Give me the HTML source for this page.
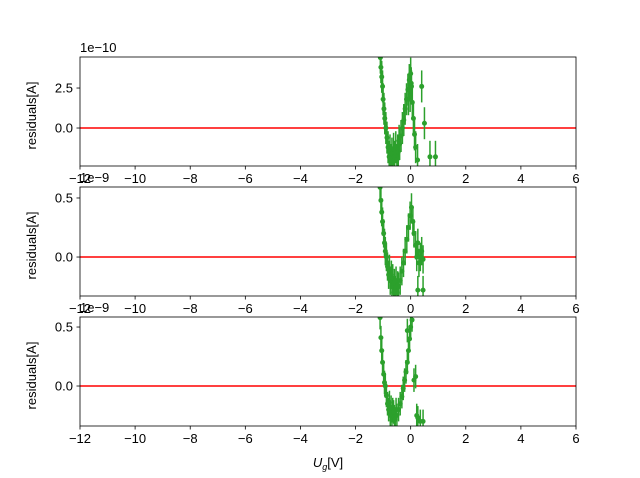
<!DOCTYPE html>
<html><head><meta charset="utf-8">
<style>
html,body{margin:0;padding:0;background:#fff;}
svg{display:block;font-family:"Liberation Sans","DejaVu Sans",sans-serif;}
</style></head>
<body>
<svg id="fig" width="640" height="478" viewBox="0 0 640 478" xmlns="http://www.w3.org/2000/svg"></svg>
<script>
// ---- data ----
const xTicks = [-12,-10,-8,-6,-4,-2,0,2,4,6];
const p1X = [-1.1,-1.08,-1.05,-1.02,-1.0,-0.97,-0.94,-0.9,-0.86,-0.82,-0.78,-0.75,-0.72,-0.68,-0.65,-0.62,-0.58,-0.54,-0.5,-0.47,-0.45,-0.42,-0.4,-0.35,-0.3,-0.25,-0.2,-0.15,-0.1,-0.05,0.0,0.03,0.06,0.1,0.14,0.18,0.25,0.4,0.5,0.7,0.9,-0.08,-0.02,0.02];
const p1Y = [4.4,3.8,3.2,2.6,1.8,1.2,0.6,0.0,-0.6,-1.2,-1.8,-1.4,-2.0,-1.6,-2.2,-1.3,-1.8,-1.2,-2.0,-1.4,-1.5,-0.8,-1.0,-0.5,0.0,0.5,1.2,1.8,2.4,3.0,3.4,2.6,1.6,0.6,-0.4,-1.2,-2.0,2.6,0.3,-1.8,-1.8,1.8,2.0,2.8];
const p1E = 1.0;
const p2X = [-1.11,-1.08,-1.05,-1.02,-0.98,-0.95,-0.92,-0.88,-0.84,-0.8,-0.77,-0.74,-0.7,-0.68,-0.65,-0.62,-0.59,-0.56,-0.53,-0.5,-0.47,-0.44,-0.38,-0.32,-0.26,-0.2,-0.14,-0.08,-0.02,0.03,0.08,0.12,0.18,0.22,0.26,0.3,0.35,0.4,0.45,0.26,0.45];
const p2Y = [0.59,0.48,0.38,0.3,0.2,0.12,0.05,0.0,-0.08,-0.15,-0.1,-0.2,-0.15,-0.25,-0.18,-0.3,-0.22,-0.28,-0.2,-0.3,-0.24,-0.25,-0.2,-0.12,-0.05,0.05,0.15,0.25,0.35,0.42,0.3,0.2,0.1,0.0,0.12,-0.05,0.0,0.05,-0.02,-0.28,-0.28];
const p2E = 0.12;
const p3X = [-1.11,-1.08,-1.05,-1.02,-0.98,-0.95,-0.92,-0.88,-0.84,-0.8,-0.77,-0.74,-0.71,-0.68,-0.65,-0.62,-0.59,-0.56,-0.53,-0.5,-0.44,-0.38,-0.32,-0.27,-0.22,-0.17,-0.12,-0.08,-0.04,0.0,0.05,-0.12,0.12,0.18,0.22,0.26,0.35,0.45];
const p3Y = [0.58,0.41,0.3,0.2,0.1,0.03,0.0,-0.08,-0.15,-0.2,-0.14,-0.25,-0.18,-0.29,-0.2,-0.22,-0.26,-0.28,-0.2,-0.25,-0.2,-0.15,-0.09,-0.02,0.05,0.12,0.2,0.3,0.4,0.5,0.56,0.47,0.05,0.08,-0.25,-0.27,-0.3,-0.3];
const p3E = 0.1;
const p1Ticks = [0.0,2.5];
const p2Ticks = [0.0,0.5];
const p3Ticks = [0.0,0.5];

const NS="http://www.w3.org/2000/svg";
const svg=document.getElementById('fig');
function mk(tag,attrs,parent){const e=document.createElementNS(NS,tag);for(const k in attrs)e.setAttribute(k,attrs[k]);(parent||svg).appendChild(e);return e;}
const L=80,R=576;
function xs(v){return L+(v-(-12))/(6-(-12))*(R-L);}

const panels=[
 {top:57,bot:166,ymin:-2.375,ymax:4.44,xs:p1X,ys:p1Y,e:p1E,ticks:p1Ticks,off:"1e\u221210",fmt:v=>v.toFixed(1)},
 {top:187,bot:296,ymin:-0.33,ymax:0.593,xs:p2X,ys:p2Y,e:p2E,ticks:p2Ticks,off:"1e\u22129",fmt:v=>v.toFixed(1)},
 {top:317,bot:426,ymin:-0.339,ymax:0.585,xs:p3X,ys:p3Y,e:p3E,ticks:p3Ticks,off:"1e\u22129",fmt:v=>v.toFixed(1)}
];
panels.forEach((p,i)=>{
 const g=mk('g',{});
 
 
 const ys=v=>p.bot-(v-p.ymin)/(p.ymax-p.ymin)*(p.bot-p.top);
 const clipId='c'+i;
 const cp=mk('clipPath',{id:clipId},g);
 mk('rect',{x:L,y:p.top,width:R-L,height:p.bot-p.top},cp);
 const data=mk('g',{'clip-path':'url(#'+clipId+')'},g);
 const zl=mk('line',{x1:L,x2:R,y1:ys(0),y2:ys(0),stroke:'#ff0000','stroke-width':1.5},data);
 
 
 for(let k=0;k<p.xs.length;k++){
  const x=xs(p.xs[k]),y=ys(p.ys[k]);
  const eb=mk('line',{x1:x,x2:x,y1:ys(p.ys[k]-p.e),y2:ys(p.ys[k]+p.e),stroke:'#2ca02c','stroke-width':1.5},data);
  
  
  const pt=mk('circle',{cx:x,cy:y,r:2.5,fill:'#2ca02c'},data);
  
  
 }
 mk('rect',{x:L,y:p.top,width:R-L,height:p.bot-p.top,fill:'none',stroke:'#000','stroke-width':0.8},g);
 xTicks.forEach(t=>{
  const x=xs(t);
  mk('line',{x1:x,x2:x,y1:p.bot,y2:p.bot+3.5,stroke:'#000','stroke-width':0.8},g);
  const tx=mk('text',{x:x,y:p.bot+17,'font-size':13,'text-anchor':'middle',fill:'#000'},g);
  tx.textContent=(t<0?'\u2212'+(-t):''+t);
  
  
 });
 p.ticks.forEach(t=>{
  const y=ys(t);
  mk('line',{x1:L-3.5,x2:L,y1:y,y2:y,stroke:'#000','stroke-width':0.8},g);
  const tx=mk('text',{x:L-7,y:y+4.5,'font-size':13,'text-anchor':'end',fill:'#000'},g);
  tx.textContent=p.fmt(t);
  
  
 });
 const off=mk('text',{x:L,y:p.top-5,'font-size':13,fill:'#000'},g);
 off.textContent=p.off;
 
 
 const cy=(p.top+p.bot)/2;
 const yl=mk('text',{x:36,y:cy+4,'font-size':13,'text-anchor':'middle',fill:'#000',transform:'rotate(-90 36 '+(cy+4)+')'},g);
 yl.textContent='residuals[A]';
 
 
});
const xl=mk('text',{x:328,y:467,'font-size':13,'text-anchor':'middle',fill:'#000'});


const t1=document.createElementNS(NS,'tspan');t1.setAttribute('font-style','italic');t1.textContent='U';xl.appendChild(t1);
const t2=document.createElementNS(NS,'tspan');t2.setAttribute('font-style','italic');t2.setAttribute('font-size','9');t2.setAttribute('dy','3');t2.textContent='g';xl.appendChild(t2);
const t3=document.createElementNS(NS,'tspan');t3.setAttribute('dy','-3');t3.textContent='[V]';xl.appendChild(t3);
</script>
</body></html>
